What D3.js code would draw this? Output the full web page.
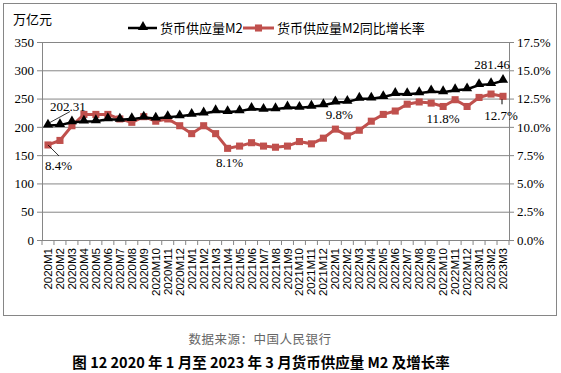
<!doctype html>
<html lang="zh">
<head>
<meta charset="utf-8">
<script src="https://cdn.jsdelivr.net/npm/d3@7"></script>
<style>
  body { margin: 0; background: #fff; }
  svg text { font-family: "Liberation Serif", serif; }
  .cjk { font-family: "Noto Sans CJK SC", sans-serif; }
  .grid line { stroke: #868686; }
  .grid path { display: none; }
  .ax path, .ax line { stroke: #868686; }
  .xl text { font-family: "Liberation Sans", Arial, sans-serif; font-size: 11.5px; }
</style>
</head>
<body>
<script>
// months, 2020M1 .. 2023M3
var months = ["2020M1","2020M2","2020M3","2020M4","2020M5","2020M6","2020M7","2020M8","2020M9","2020M10","2020M11","2020M12",
  "2021M1","2021M2","2021M3","2021M4","2021M5","2021M6","2021M7","2021M8","2021M9","2021M10","2021M11","2021M12",
  "2022M1","2022M2","2022M3","2022M4","2022M5","2022M6","2022M7","2022M8","2022M9","2022M10","2022M11","2022M12",
  "2023M1","2023M2","2023M3"];
// M2 supply, trillion yuan
var m2 = [202.31,203.08,208.09,209.35,210.02,213.49,212.55,213.68,216.41,214.71,217.20,218.68,
  221.30,223.60,227.65,226.21,227.55,231.78,230.22,231.22,234.28,233.62,235.60,238.29,
  243.10,244.15,249.77,249.85,252.65,258.15,257.81,259.51,262.66,261.21,264.71,266.43,
  273.80,275.52,281.46];
// year-on-year growth, %
var growth = [8.4,8.8,10.1,11.1,11.1,11.1,10.7,10.4,10.9,10.5,10.7,10.1,
  9.4,10.1,9.4,8.1,8.3,8.6,8.3,8.2,8.3,8.7,8.5,9.0,
  9.8,9.2,9.7,10.5,11.1,11.4,12.0,12.2,12.1,11.8,12.4,11.8,
  12.6,12.9,12.7];
var leftTicks = [0,50,100,150,200,250,300,350];
var rightTicks = [0,2.5,5,7.5,10,12.5,15,17.5];

var W = 561, H = 373;
var L = 42, R = 509, T = 42, B = 240;
var black = "#000", red = "#c0504d";

var svg = d3.select("body").append("svg").attr("width", W).attr("height", H);

svg.append("rect").attr("x", 3.5).attr("y", 3.5).attr("width", 553).attr("height", 312)
  .attr("fill", "#fff").attr("stroke", "#868686");

var x = d3.scaleBand().domain(months).range([L, R]).padding(0);
var yL = d3.scaleLinear().domain([0, 350]).range([B, T]);
var yR = d3.scaleLinear().domain([0, 17.5]).range([B, T]);
var cx = function(i){ return x(months[i]) + x.bandwidth()/2; };

// gridlines
svg.append("g").attr("class", "grid").attr("transform", "translate(" + L + ",0)")
  .call(d3.axisLeft(yL).tickValues(leftTicks).tickSize(-(R - L)).tickFormat(""));

// left axis
var gl = svg.append("g").attr("class", "ax").attr("transform", "translate(" + L + ",0)")
  .call(d3.axisLeft(yL).tickValues(leftTicks).tickSize(5).tickSizeOuter(0).tickPadding(3));
gl.selectAll("text").attr("font-size", 13).attr("font-family", "Liberation Serif").attr("fill", "#000");

// right axis
var gr = svg.append("g").attr("class", "ax").attr("transform", "translate(" + R + ",0)")
  .call(d3.axisRight(yR).tickValues(rightTicks).tickSize(5).tickSizeOuter(0).tickPadding(3)
    .tickFormat(function(d){ return d.toFixed(1) + "%"; }));
gr.selectAll("text").attr("font-size", 13).attr("font-family", "Liberation Serif").attr("fill", "#000");

// bottom axis: labels rotated, ticks between categories
var gb = svg.append("g").attr("class", "ax xl").attr("transform", "translate(0," + B + ")")
  .call(d3.axisBottom(x).tickSize(0).tickSizeOuter(0));
gb.selectAll("text")
  .attr("transform", "rotate(-90)")
  .attr("text-anchor", "end")
  .attr("x", -8).attr("y", 0).attr("dy", "0.35em").attr("fill", "#000");
svg.append("g").selectAll("line")
  .data(d3.range(months.length + 1))
  .join("line")
  .attr("x1", function(i){ return L + i * x.step(); })
  .attr("x2", function(i){ return L + i * x.step(); })
  .attr("y1", B).attr("y2", B + 5)
  .attr("stroke", "#868686");

// growth line (red)
var lineG = d3.line().x(function(d, i){ return cx(i); }).y(function(d){ return yR(d); });
svg.append("path").datum(growth).attr("d", lineG)
  .attr("fill", "none").attr("stroke", red).attr("stroke-width", 3);
svg.append("g").selectAll("path").data(growth).join("path")
  .attr("d", d3.symbol(d3.symbolSquare, 50))
  .attr("transform", function(d, i){ return "translate(" + cx(i) + "," + yR(d) + ")"; })
  .attr("fill", red);

// M2 line (black)
var lineM = d3.line().x(function(d, i){ return cx(i); }).y(function(d){ return yL(d); });
svg.append("path").datum(m2).attr("d", lineM)
  .attr("fill", "none").attr("stroke", black).attr("stroke-width", 2.5);
svg.append("g").selectAll("path").data(m2).join("path")
  .attr("d", d3.symbol(d3.symbolTriangle, 45))
  .attr("transform", function(d, i){ return "translate(" + cx(i) + "," + (yL(d) - 1) + ")"; })
  .attr("fill", black);

// data labels
function label(txt, px, py, anchor) {
  svg.append("text").text(txt).attr("x", px).attr("y", py)
    .attr("text-anchor", anchor || "middle").attr("font-size", 13)
    .attr("font-family", "Liberation Serif").attr("fill", "#000");
}
var last = months.length - 1;
label("202.31", 50, 111, "start");
svg.append("line").attr("x1", cx(0)).attr("y1", yL(m2[0]) - 2).attr("x2", cx(0) + 22).attr("y2", yL(m2[0]) - 14)
  .attr("stroke", "#000").attr("stroke-width", 0.8);
label("8.4%", 45, 170, "start");
svg.append("line").attr("x1", cx(0)).attr("y1", yR(growth[0])).attr("x2", cx(0) + 11).attr("y2", yR(growth[0]) + 11)
  .attr("stroke", "#000").attr("stroke-width", 0.8);
label("8.1%", cx(15) + 2, 167);
label("9.8%", cx(24) + 4, 119);
label("11.8%", cx(33), 123);
label("281.46", cx(last) - 11, 69);
label("12.7%", cx(last) - 2, 120);
svg.append("line").attr("x1", cx(last) - 1).attr("y1", yR(growth[last]) + 3).attr("x2", cx(last) - 1).attr("y2", yR(growth[last]) + 8)
  .attr("stroke", "#000").attr("stroke-width", 1);

// unit
svg.append("text").attr("class", "cjk").text("万亿元").attr("x", 13).attr("y", 24)
  .attr("font-size", 13).attr("fill", "#000");

// legend
var lg = svg.append("g");
lg.append("line").attr("x1", 128).attr("x2", 157).attr("y1", 28).attr("y2", 28).attr("stroke", black).attr("stroke-width", 2.5);
lg.append("path").attr("d", d3.symbol(d3.symbolTriangle, 45)).attr("transform", "translate(143,27)").attr("fill", black);
lg.append("text").attr("class", "cjk").text("货币供应量M2").attr("x", 160).attr("y", 32.5).attr("font-size", 13).attr("fill", "#000");
lg.append("line").attr("x1", 243).attr("x2", 274).attr("y1", 28).attr("y2", 28).attr("stroke", red).attr("stroke-width", 3);
lg.append("path").attr("d", d3.symbol(d3.symbolSquare, 50)).attr("transform", "translate(258.5,28)").attr("fill", red);
lg.append("text").attr("class", "cjk").text("货币供应量M2同比增长率").attr("x", 277).attr("y", 32.5).attr("font-size", 13).attr("fill", "#000");

// source and caption
svg.append("text").attr("class", "cjk").text("数据来源：中国人民银行")
  .attr("x", 260).attr("y", 344).attr("text-anchor", "middle")
  .attr("font-size", 12.5).attr("letter-spacing", 0.5).attr("fill", "#666");
svg.append("text").attr("class", "cjk").text("图 12 2020 年 1 月至 2023 年 3 月货币供应量 M2 及增长率")
  .attr("x", 261).attr("y", 368).attr("text-anchor", "middle")
  .attr("font-size", 14.5).attr("font-weight", "bold").attr("fill", "#000");
</script>
</body>
</html>
